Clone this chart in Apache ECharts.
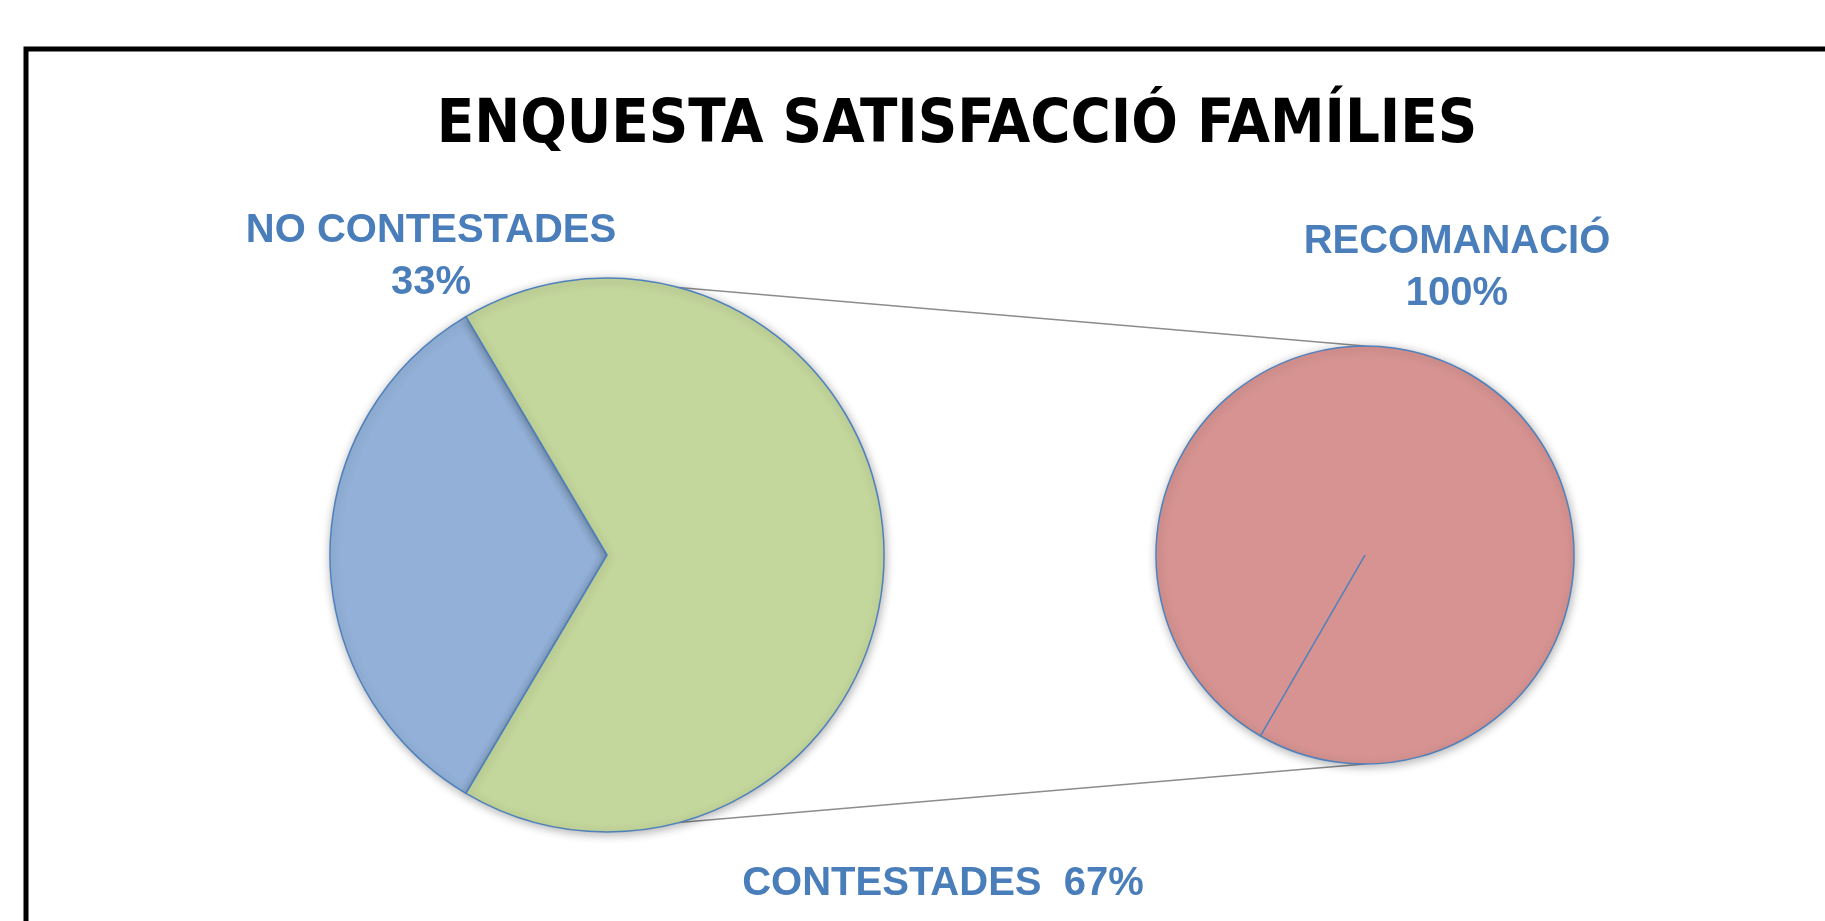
<!DOCTYPE html>
<html>
<head>
<meta charset="utf-8">
<script src="https://cdn.jsdelivr.net/npm/echarts@6/dist/echarts.min.js"></script>
<style>
html,body{margin:0;padding:0;background:#fff;}
#chart{width:1825px;height:921px;}
</style>
</head>
<body>
<div id="chart"></div>
<script>
// ---- data ----
const titleText = 'ENQUESTA SATISFACCIÓ FAMÍLIES';
const categories = ['NO CONTESTADES', 'CONTESTADES'];
const values = [33, 67];
const subCategories = ['RECOMANACIÓ'];
const subValues = [100];

// ---- styles ----
const mainColors = ['#93b1d8', '#c3d69b'];
const subColors = ['#d69391'];
const edgeColor = '#4f81bd';
const labelColor = '#4a7ebb';
const labelFont = "'Liberation Sans', Arial, sans-serif";

const chart = echarts.init(document.getElementById('chart'), null, {renderer: 'canvas'});

const labelPos = {
  '0-0': {x: 431, y: 257},
  '0-1': {x: 943, y: 884},
  '1-0': {x: 1457, y: 268}
};

const labelStyle = {
  show: true,
  position: 'outside',
  color: labelColor,
  fontFamily: labelFont,
  fontWeight: 'bold',
  fontSize: 40,
  lineHeight: 52,
  align: 'center',
  overflow: 'none',
  width: 600
};

const option = {
  backgroundColor: '#ffffff',
  animation: false,
  title: {
    text: titleText,
    left: 952,
    top: 121,
    textAlign: 'center',
    textVerticalAlign: 'middle',
    textStyle: {
      fontFamily: "'DejaVu Sans Condensed', 'Liberation Sans Narrow', sans-serif",
      fontWeight: 'bold',
      fontSize: 61,
      color: '#000'
    }
  },
  series: [
    {
      type: 'pie',
      z: 3,
      center: [607, 555],
      radius: 277,
      startAngle: 239.4,
      clockwise: true,
      silent: true,
      data: categories.map((c, i) => ({
        name: c,
        value: values[i],
        itemStyle: {color: mainColors[i]},
        label: {formatter: i === 1 ? '{b}  {d}%' : '{b}\n{d}%'}
      })),
      itemStyle: {
        borderColor: edgeColor,
        borderWidth: 1.5,
        shadowBlur: 10,
        shadowColor: 'rgba(0,0,0,0.3)',
        shadowOffsetX: 1,
        shadowOffsetY: 2
      },
      label: labelStyle,
      labelLine: {show: false},
      labelLayout: function (p) {
        const k = labelPos[p.seriesIndex + '-' + p.dataIndex];
        return {x: k.x, y: k.y, align: 'center', verticalAlign: 'middle'};
      }
    },
    {
      type: 'pie',
      z: 3,
      center: [1365, 555],
      radius: 209,
      startAngle: 240,
      clockwise: true,
      silent: true,
      data: subCategories.map((c, i) => ({
        name: c,
        value: subValues[i],
        itemStyle: {color: subColors[i]}
      })),
      itemStyle: {
        borderColor: edgeColor,
        borderWidth: 1.5,
        shadowBlur: 10,
        shadowColor: 'rgba(0,0,0,0.3)',
        shadowOffsetX: 1,
        shadowOffsetY: 2
      },
      label: Object.assign({}, labelStyle, {formatter: '{b}\n{c}%'}),
      labelLine: {show: false},
      labelLayout: function (p) {
        const k = labelPos[p.seriesIndex + '-' + p.dataIndex];
        return {x: k.x, y: k.y, align: 'center', verticalAlign: 'middle'};
      }
    }
  ]
};
chart.setOption(option);

// Decorations derived from the pies' computed layouts
function decorate() {
  const model = chart.getModel();
  const main = model.getSeriesByIndex(0).getData().getItemLayout(0);
  const sub = model.getSeriesByIndex(1).getData().getItemLayout(0);
  const a = 75 * Math.PI / 180;
  const topL = [main.cx + main.r * Math.cos(-a), main.cy + main.r * Math.sin(-a)];
  const botL = [main.cx + main.r * Math.cos(a), main.cy + main.r * Math.sin(a)];
  const topR = [sub.cx, sub.cy - sub.r];
  const botR = [sub.cx, sub.cy + sub.r];
  const sa = sub.startAngle;
  const radEnd = [sub.cx + sub.r * Math.cos(sa), sub.cy + sub.r * Math.sin(sa)];
  chart.setOption({
    graphic: [
      {type: 'rect', z: 0, shape: {x: 26, y: 49, width: 1900, height: 1000},
       style: {fill: 'none', stroke: '#000', lineWidth: 5}},
      {type: 'line', z: 1, shape: {x1: topL[0], y1: topL[1], x2: topR[0], y2: topR[1]},
       style: {stroke: '#8c8c8c', lineWidth: 1.5}},
      {type: 'line', z: 1, shape: {x1: botL[0], y1: botL[1], x2: botR[0], y2: botR[1]},
       style: {stroke: '#8c8c8c', lineWidth: 1.5}},
      {type: 'line', z: 10, shape: {x1: sub.cx, y1: sub.cy, x2: radEnd[0], y2: radEnd[1]},
       style: {stroke: edgeColor, lineWidth: 1.5}}
    ]
  });
}
decorate();
</script>
</body>
</html>
